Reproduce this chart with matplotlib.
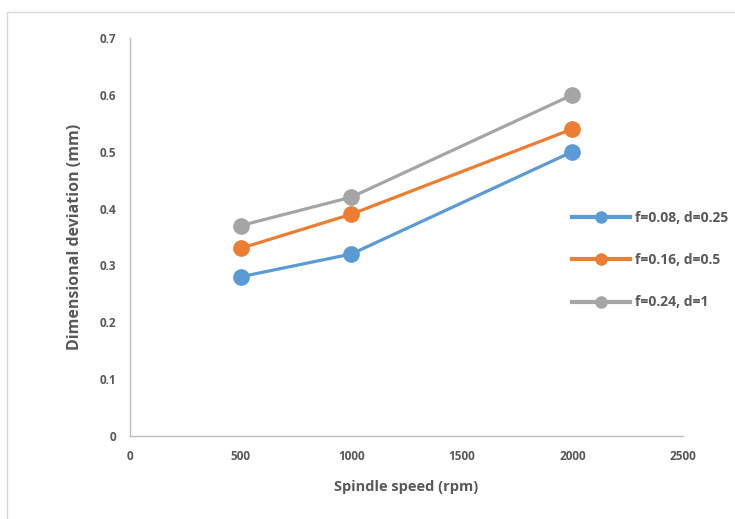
import matplotlib.pyplot as plt
from matplotlib.lines import Line2D
from matplotlib.patches import Rectangle

# data
speed = [500, 1000, 2000]
dev_a = [0.28, 0.32, 0.50]
dev_b = [0.33, 0.39, 0.54]
dev_c = [0.37, 0.42, 0.60]
labels = ['f=0.08, d=0.25', 'f=0.16, d=0.5', 'f=0.24, d=1']
colors = ['#5B9BD5', '#ED7D31', '#A5A5A5']

plt.rcParams['font.family'] = ['Open Sans', 'DejaVu Sans']
txt = '#595959'

fig = plt.figure(figsize=(7.35, 5.19), dpi=100)
ax = fig.add_axes([130/735, 83/519, 553/735, 398/519])

for ys, c in zip([dev_a, dev_b, dev_c], colors):
    ax.plot(speed, ys, color=c, lw=2.3, marker='o', ms=11, zorder=3)

ax.set_xlim(0, 2500)
ax.set_ylim(0, 0.7)
ax.set_xticks([0, 500, 1000, 1500, 2000, 2500])
ax.set_yticks([0, 0.1, 0.2, 0.3, 0.4, 0.5, 0.6, 0.7])
ax.set_yticklabels(['0', '0.1', '0.2', '0.3', '0.4', '0.5', '0.6', '0.7'])
ax.tick_params(length=0, labelsize=8.5, colors=txt, pad=10)
for t in ax.get_xticklabels() + ax.get_yticklabels():
    t.set_fontweight('bold')
for s in ['top', 'right']:
    ax.spines[s].set_visible(False)
for s in ['left', 'bottom']:
    ax.spines[s].set_color('#BFBFBF')
    ax.spines[s].set_linewidth(1)

ax.set_xlabel('Spindle speed (rpm)', fontsize=10.5, fontweight='bold', color=txt, labelpad=12)
ax.set_ylabel('Dimensional deviation (mm)', fontsize=11.5, fontweight='bold', color=txt, labelpad=12)

# legend entries placed by hand on the right
handles = [Line2D([0], [0], color=c, lw=3, marker='o', ms=8) for c in colors]
leg = fig.legend(handles, labels, loc='upper left', bbox_to_anchor=(566/735, 1 - 205/519),
                 frameon=False, fontsize=10, handlelength=4.2, labelspacing=2.05,
                 handletextpad=0.35, borderaxespad=0)
for t in leg.get_texts():
    t.set_fontweight('bold')
    t.set_color(txt)

# outer chart border
fig.patches.append(Rectangle((7/735, -0.05), 1.2, 1 - 12/519 + 0.05, transform=fig.transFigure,
                             fill=False, edgecolor='#D9D9D9', lw=1))

fig.savefig('out.png', dpi=100)
